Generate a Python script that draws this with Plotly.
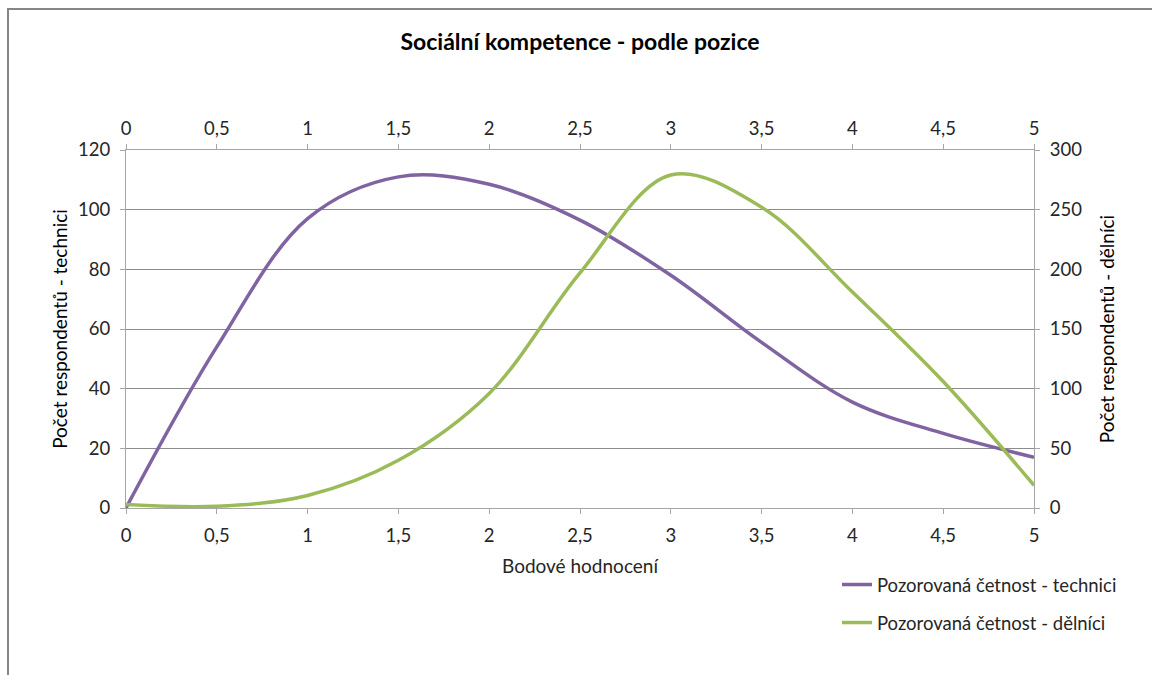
import plotly.graph_objects as go

# Score scale shared by both series
body = [0, 0.5, 1, 1.5, 2, 2.5, 3, 3.5, 4, 4.5, 5]

# Observed frequencies
technici = [0, 54, 97, 111, 108.5, 96.5, 78, 55.5, 35.5, 25, 17]
delnici = [3, 1.5, 10.5, 40, 96, 197, 279, 252, 181, 106, 19]

x_ticks = [0, 0.5, 1, 1.5, 2, 2.5, 3, 3.5, 4, 4.5, 5]
x_ticktext = ["0", "0,5", "1", "1,5", "2", "2,5", "3", "3,5", "4", "4,5", "5"]

FONT = "Lato"
TXT = "#262626"
GRID = "#8c8c8c"
AXIS = "#a6a6a6"
TICK_SIZE = 18.5
TITLE_SIZE = 19

W, H = 1152, 675
L, R, T, B = 126, 118, 150, 167
pw, ph = W - L - R, H - T - B


def px_x(px):
    return (px - L) / pw


def px_y(py):
    return (H - B - py) / ph


fig = go.Figure()
fig.add_trace(go.Scatter(
    x=body, y=technici, mode="lines", name="Pozorovaná četnost - technici",
    line=dict(color="#8064A2", width=3.5, shape="spline", smoothing=1),
    xaxis="x", yaxis="y", legend="legend",
))
fig.add_trace(go.Scatter(
    x=body, y=delnici, mode="lines", name="Pozorovaná četnost - dělníci",
    line=dict(color="#9BBB59", width=3.5, shape="spline", smoothing=1),
    xaxis="x2", yaxis="y2", legend="legend2",
))

xcommon = dict(
    range=[0, 5], tickvals=x_ticks, ticktext=x_ticktext,
    showgrid=False, zeroline=False, showline=True, linecolor=AXIS, linewidth=1,
    ticks="outside", ticklen=5, tickcolor=AXIS,
    tickfont=dict(family=FONT, size=TICK_SIZE, color=TXT),
)

fig.update_layout(
    width=W, height=H,
    margin=dict(l=L, r=R, t=T, b=B),
    paper_bgcolor="white", plot_bgcolor="white",
    font=dict(family=FONT, color=TXT),
    title=dict(
        text="<b>Sociální kompetence - podle pozice</b>",
        x=0.5, xanchor="center", xref="paper",
        y=1 - 42 / H, yanchor="middle",
        font=dict(family=FONT, size=23, color="#000000"),
    ),
    xaxis=dict(
        **xcommon, ticklabelstandoff=6,
        title=dict(text="Bodové hodnocení", standoff=14,
                   font=dict(family=FONT, size=TITLE_SIZE, color=TXT)),
    ),
    xaxis2=dict(**xcommon, ticklabelstandoff=2, overlaying="x", side="top", anchor="y2"),
    yaxis=dict(
        range=[0, 120], dtick=20,
        showgrid=True, gridcolor=GRID, gridwidth=1, zeroline=False,
        showline=True, linecolor=AXIS, linewidth=1,
        ticks="outside", ticklen=5, tickcolor=AXIS, ticklabelstandoff=6,
        tickfont=dict(family=FONT, size=TICK_SIZE, color=TXT),
        title=dict(text="Počet respondentů - technici", standoff=5,
                   font=dict(family=FONT, size=TITLE_SIZE, color="#000000")),
    ),
    yaxis2=dict(
        range=[0, 300], dtick=50, overlaying="y", side="right", anchor="x2",
        showgrid=False, zeroline=False,
        showline=True, linecolor=AXIS, linewidth=1,
        ticks="outside", ticklen=5, tickcolor=AXIS, ticklabelstandoff=6,
        tickfont=dict(family=FONT, size=TICK_SIZE, color=TXT),
        title=dict(text="Počet respondentů - dělníci", standoff=19,
                   font=dict(family=FONT, size=TITLE_SIZE, color="#000000")),
    ),
    legend=dict(
        x=px_x(837), y=px_y(585), xanchor="left", yanchor="middle",
        font=dict(family=FONT, size=TICK_SIZE, color=TXT), bgcolor="rgba(0,0,0,0)",
    ),
    legend2=dict(
        x=px_x(837), y=px_y(623), xanchor="left", yanchor="middle",
        font=dict(family=FONT, size=TICK_SIZE, color=TXT), bgcolor="rgba(0,0,0,0)",
    ),
    showlegend=True,
)

# Chart-area frame
fig.add_shape(
    type="rect", xref="paper", yref="paper",
    x0=px_x(8), x1=px_x(1170), y0=px_y(690), y1=px_y(9),
    line=dict(color="#868686", width=2), fillcolor="rgba(0,0,0,0)", layer="below",
)

fig.write_html("out.html")
